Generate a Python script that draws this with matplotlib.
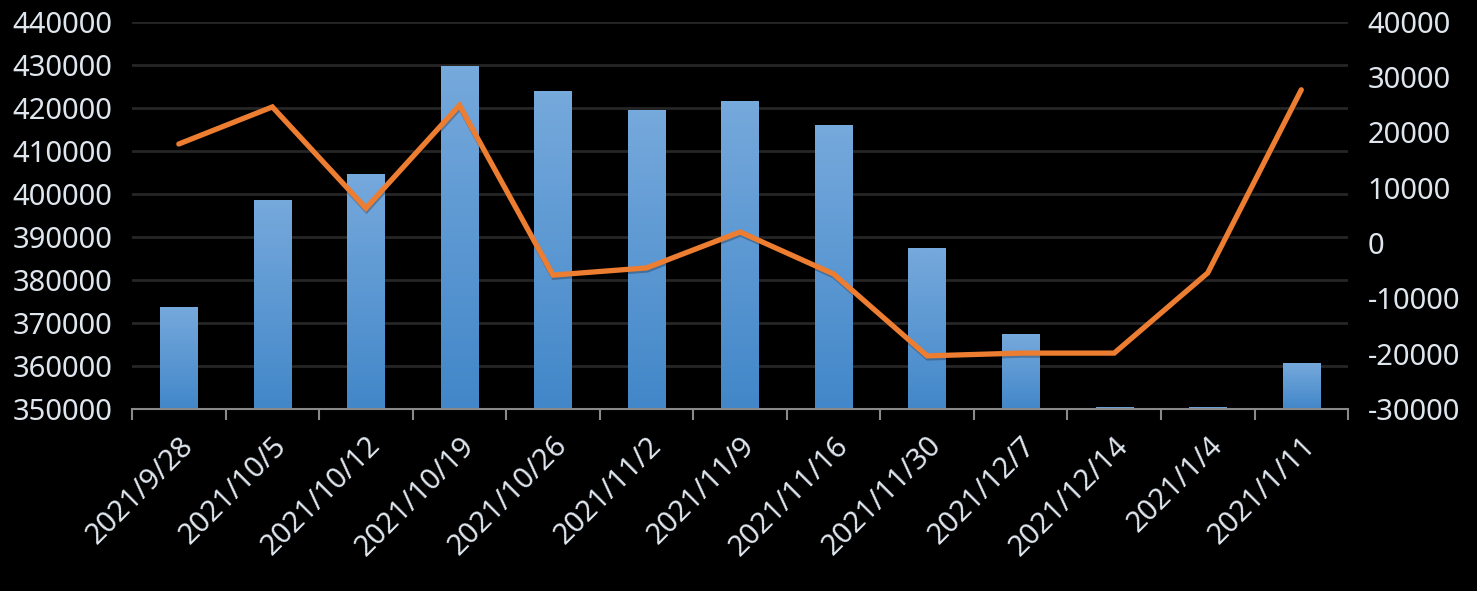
import numpy as np
import matplotlib.pyplot as plt
import matplotlib.patheffects as pe
from matplotlib.colors import LinearSegmentedColormap

dates = ['2021/9/28', '2021/10/5', '2021/10/12', '2021/10/19', '2021/10/26',
         '2021/11/2', '2021/11/9', '2021/11/16', '2021/11/30', '2021/12/7',
         '2021/12/14', '2021/1/4', '2021/1/11']
totals = [373700, 398400, 404600, 429500, 423700, 419300, 421400,
          415800, 387200, 367200, 350250, 350250, 360500]
changes = [17900, 24600, 6300, 24900, -5800, -4500, 2000,
           -5600, -20400, -19900, -19900, -5400, 27700]

txt = '#dfe6ee'
plt.rcParams['font.family'] = ['Noto Sans', 'DejaVu Sans']
plt.rcParams['axes.unicode_minus'] = False

fig = plt.figure(figsize=(14.77, 5.91), dpi=100, facecolor='black')
ax = fig.add_axes([0.0894, 0.308, 0.8233, 0.6552])
ax.set_facecolor('black')
ax2 = ax.twinx()

x = np.arange(len(dates))
ymin, ymax = 350000, 440000

# bars with a vertical gradient
cmap = LinearSegmentedColormap.from_list('bar', ['#4287c9', '#76a9dc'])
grad = np.linspace(0, 1, 100).reshape(-1, 1)
w = 0.4
for xi, v in zip(x, totals):
    ax.imshow(grad, extent=[xi - w / 2, xi + w / 2, ymin, v], origin='lower',
              aspect='auto', cmap=cmap, zorder=2)
ax.set_aspect('auto')
ax.set_xlim(-0.5, len(dates) - 0.5)
ax.set_ylim(ymin, ymax)

ax.set_yticks(np.arange(350000, 440001, 10000))
ax.grid(axis='y', color='#262626', linewidth=2, zorder=0)
ax.set_axisbelow(True)

ax.set_xticks(x)
ax.set_xticklabels(dates, rotation=45, ha='right', rotation_mode='anchor')
ax.set_xticks(np.arange(-0.5, len(dates)), minor=True)
ax.tick_params(axis='x', which='major', length=0, pad=16, labelsize=21, colors=txt)
ax.tick_params(axis='x', which='minor', length=8, width=1.5, color='#8a8a8a')
ax.tick_params(axis='y', length=0, pad=14, labelsize=21, colors=txt)

for s in ['top', 'left', 'right']:
    ax.spines[s].set_visible(False)
    ax2.spines[s].set_visible(False)
ax.spines['bottom'].set_color('#8a8a8a')
ax.spines['bottom'].set_linewidth(1.5)
ax2.spines['bottom'].set_visible(False)

ax2.plot(x, changes, color='#ed7d31', linewidth=3.8, solid_capstyle='round',
         solid_joinstyle='miter', zorder=3,
         path_effects=[pe.SimpleLineShadow(offset=(0.5, -1.5), alpha=0.25), pe.Normal()])
ax2.set_ylim(-30000, 40000)
ax2.set_yticks(np.arange(-30000, 40001, 10000))
ax2.tick_params(axis='y', length=0, pad=14, labelsize=21, colors=txt)

fig.savefig('out.png', dpi=100, facecolor='black')
